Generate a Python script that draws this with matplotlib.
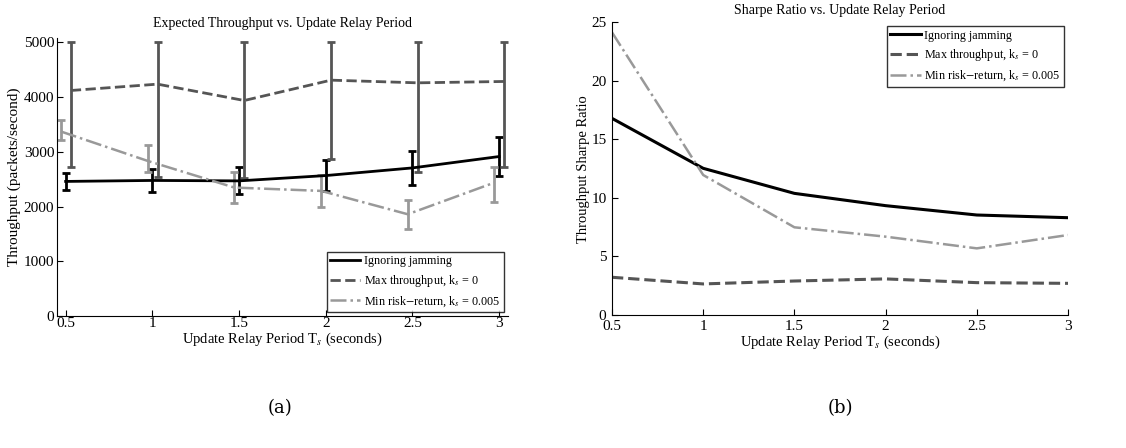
import numpy as np
import matplotlib.pyplot as plt

plt.rcParams['font.family'] = ['Liberation Serif', 'DejaVu Serif']
plt.rcParams['mathtext.fontset'] = 'stix'

periods = [0.5, 1.0, 1.5, 2.0, 2.5, 3.0]

# throughput (packets/second)
thr_ignore = [2460, 2478, 2470, 2567, 2707, 2915]
thr_ignore_err = [150, 210, 245, 280, 315, 355]

thr_max = [4122, 4238, 3939, 4311, 4262, 4287]
thr_max_lo = [2720, 2549, 2530, 2872, 2640, 2732]
thr_max_hi = [5000, 5000, 5000, 5000, 5000, 5000]

thr_min = [3372, 2835, 2348, 2287, 1860, 2439]
thr_min_lo = [3220, 2640, 2073, 1988, 1585, 2091]
thr_min_hi = [3585, 3128, 2628, 2579, 2122, 2732]

# sharpe ratio
sr_ignore = [16.8, 12.53, 10.39, 9.34, 8.54, 8.31]
sr_max = [3.22, 2.65, 2.9, 3.08, 2.76, 2.7]
sr_min = [24.15, 11.96, 7.49, 6.69, 5.69, 6.83]

labels = ['Ignoring jamming', r'Max throughput, k$_s$ = 0', r'Min risk$-$return, k$_s$ = 0.005']
c_black, c_dark, c_light = 'black', '#555555', '#999999'

fig = plt.figure(figsize=(11.26, 4.48), dpi=100)
ax1 = fig.add_axes([0.0506, 0.2946, 0.4004, 0.6204])
ax2 = fig.add_axes([0.5435, 0.297, 0.405, 0.653])

x = np.array(periods)
tm = np.array(thr_max)
tn = np.array(thr_min)

ax1.errorbar(x, thr_ignore, yerr=thr_ignore_err, color=c_black, lw=2, capsize=3,
             elinewidth=2, capthick=2, label=labels[0])
ax1.errorbar(x + 0.03, tm, yerr=[tm - np.array(thr_max_lo), np.array(thr_max_hi) - tm],
             color=c_dark, ls='--', lw=2, capsize=3, elinewidth=2, capthick=2,
             label=labels[1])
ax1.errorbar(x - 0.027, tn, yerr=[tn - np.array(thr_min_lo), np.array(thr_min_hi) - tn],
             color=c_light, ls='-.', lw=1.8, capsize=3, elinewidth=2, capthick=2,
             label=labels[2])
ax1.set_xlim(0.45, 3.05)
ax1.set_ylim(0, 5080)
ax1.set_xticks(periods)
ax1.set_xticklabels(['0.5', '1', '1.5', '2', '2.5', '3'])
ax1.set_yticks([0, 1000, 2000, 3000, 4000, 5000])
ax1.set_title('Expected Throughput vs. Update Relay Period', fontsize=10, pad=8)
ax1.set_ylabel('Throughput (packets/second)', fontsize=11, labelpad=2)
ax1.set_xlabel(r'Update Relay Period T$_s$ (seconds)', fontsize=10.5, labelpad=0)
h, l = ax1.get_legend_handles_labels()
h = [hh[0] for hh in h]
leg_kw = dict(fontsize=8.7, frameon=True, fancybox=False, edgecolor='black',
              handlelength=2.5, handletextpad=0.3, borderaxespad=0.3,
              borderpad=0.3, labelspacing=0.45)
leg1 = ax1.legend(h, l, loc='lower right', **leg_kw)
leg1.get_frame().set_linewidth(1.0)

ax2.plot(periods, sr_ignore, color=c_black, lw=2.2, label=labels[0])
ax2.plot(periods, sr_max, color=c_dark, ls='--', lw=2.2, label=labels[1])
ax2.plot(periods, sr_min, color=c_light, ls='-.', lw=1.8, label=labels[2])
ax2.set_xlim(0.5, 3)
ax2.set_ylim(0, 25)
ax2.set_xticks(periods)
ax2.set_xticklabels(['0.5', '1', '1.5', '2', '2.5', '3'])
ax2.set_yticks([0, 5, 10, 15, 20, 25])
ax2.set_title('Sharpe Ratio vs. Update Relay Period', fontsize=10, pad=6)
ax2.set_ylabel('Throughput Sharpe Ratio', fontsize=10.5, labelpad=1)
ax2.set_xlabel(r'Update Relay Period T$_s$ (seconds)', fontsize=10.5, labelpad=0)
leg2 = ax2.legend(loc='upper right', **leg_kw)
leg2.get_frame().set_linewidth(1.0)

for ax in (ax1, ax2):
    ax.spines['top'].set_visible(False)
    ax.spines['right'].set_visible(False)
    ax.tick_params(direction='in', labelsize=11, pad=2, length=4)
    ax.tick_params(axis='x', pad=1)
ax2.tick_params(axis='x', pad=4)
ax2.tick_params(axis='y', pad=4)

fig.text(0.2487, 0.09, '(a)', ha='center', va='center', fontsize=13, family='DejaVu Serif')
fig.text(0.746, 0.09, '(b)', ha='center', va='center', fontsize=13, family='DejaVu Serif')

fig.savefig('out.png', dpi=100)
